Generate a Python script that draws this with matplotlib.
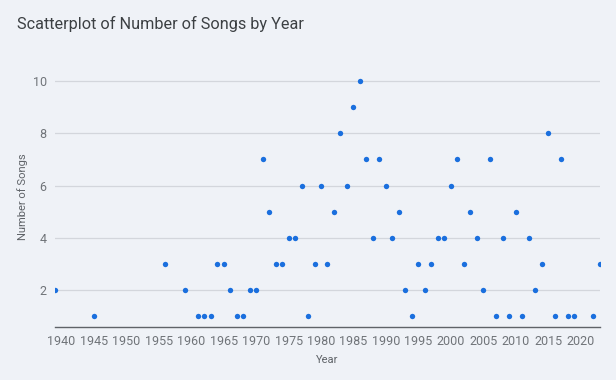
import matplotlib.pyplot as plt

# Data
years = [1939, 1945, 1956, 1959, 1961, 1962, 1963, 1964, 1965, 1966, 1967, 1968,
         1969, 1970, 1971, 1972, 1973, 1974, 1975, 1976, 1977, 1978, 1979, 1980,
         1981, 1982, 1983, 1984, 1985, 1986, 1987, 1988, 1989, 1990, 1991, 1992,
         1993, 1994, 1995, 1996, 1997, 1998, 1999, 2000, 2001, 2002, 2003, 2004,
         2005, 2006, 2007, 2008, 2009, 2010, 2011, 2012, 2013, 2014, 2015, 2016,
         2017, 2018, 2019, 2022, 2023]
songs = [2, 1, 3, 2, 1, 1, 1, 3, 3, 2, 1, 1,
         2, 2, 7, 5, 3, 3, 4, 4, 6, 1, 3, 6,
         3, 5, 8, 6, 9, 10, 7, 4, 7, 6, 4, 5,
         2, 1, 3, 2, 3, 4, 4, 6, 7, 3, 5, 4,
         2, 7, 1, 4, 1, 5, 1, 4, 2, 3, 8, 1,
         7, 1, 1, 1, 3]
x_ticks = list(range(1940, 2021, 5))
y_ticks = [2, 4, 6, 8, 10]

bg = '#eff2f7'
plt.rcParams['font.family'] = ['Roboto', 'DejaVu Sans']

fig = plt.figure(figsize=(6.16, 3.8), dpi=100, facecolor=bg)
ax = fig.add_axes([0.0893, 0.1395, 0.8847, 0.688], facecolor=bg)

ax.scatter(years, songs, s=15, color='#1a6fde', zorder=3, clip_on=True, linewidths=0)

ax.set_xlim(1939, 2023)
ax.set_ylim(0.58, 10.6)
ax.set_xticks(x_ticks)
ax.set_yticks(y_ticks)
ax.tick_params(length=0, labelsize=9, colors='#707479', pad=6)
ax.grid(axis='y', color='#d3d6dc', linewidth=0.9)
ax.set_axisbelow(True)

for side in ['top', 'right', 'left']:
    ax.spines[side].set_visible(False)
ax.spines['bottom'].set_color('#5f6368')
ax.spines['bottom'].set_linewidth(1.0)

ax.set_xlabel('Year', fontsize=8, color='#5f6368', labelpad=5)
ax.set_ylabel('Number of Songs', fontsize=8, color='#5f6368', labelpad=3)

fig.text(0.027, 0.925, 'Scatterplot of Number of Songs by Year', fontsize=11.7,
         color='#3c4043', ha='left', va='baseline')

plt.savefig('out.png', dpi=100, facecolor=bg)
